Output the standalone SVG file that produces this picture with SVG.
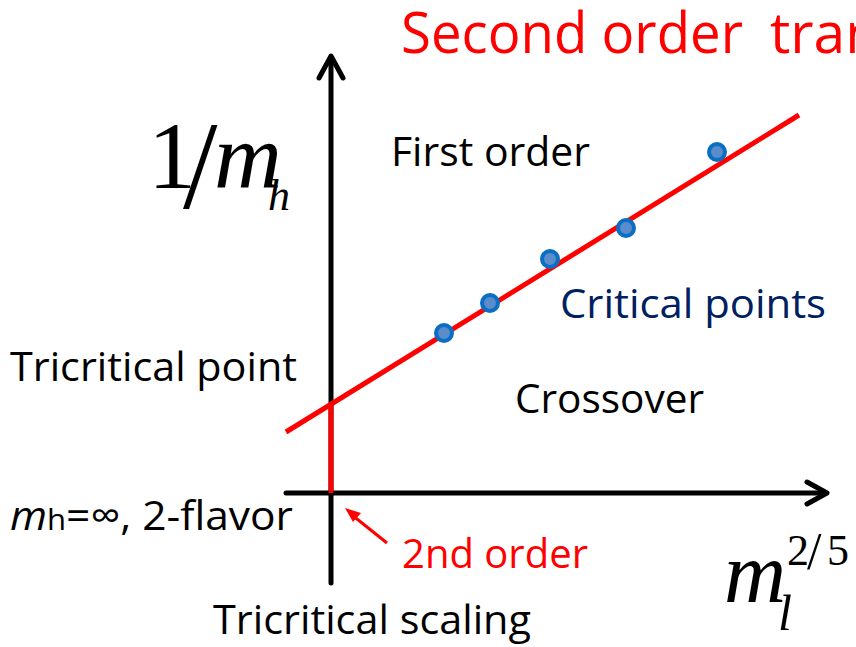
<svg xmlns="http://www.w3.org/2000/svg" width="856" height="647" viewBox="0 0 856 647">
<style>
.t{font-family:"Open Sans","Noto Sans","Liberation Sans",sans-serif;font-size:41px;fill:#000}
.title{font-family:"Open Sans","Noto Sans","Liberation Sans",sans-serif;font-size:57px;fill:#ff0000}
.red{fill:#ff0000}
.navy{fill:#002060}
.math{font-family:"Liberation Serif","Times New Roman",serif;fill:#000}
.it{font-style:italic}
.axis{stroke:#000;stroke-width:5;fill:none;stroke-linecap:round;stroke-linejoin:round}
.pt{fill:#5a8ccb;stroke:#0a6fc2;stroke-width:4}
</style>
<rect width="856" height="647" fill="#fff"/>
<g id="connectors">
  <line x1="331" y1="583" x2="331" y2="58" class="axis" stroke-linecap="butt"/>
  <polyline points="319,78 331,56 343,78" class="axis"/>
  <line x1="286" y1="493" x2="825" y2="493" class="axis" stroke-linecap="butt"/>
  <polyline points="807,482 827,493 807,504" class="axis"/>
  <line x1="286" y1="432" x2="799" y2="115" stroke="#ff0000" stroke-width="5"/>
  <line x1="331" y1="404" x2="331" y2="493" stroke="#ff0000" stroke-width="5"/>
  <line x1="387" y1="543" x2="352" y2="515" stroke="#ff0000" stroke-width="3"/>
  <polygon points="345,508 361,513 353,522" fill="#ff0000"/>
</g>
<g id="points">
  <circle cx="444" cy="333" r="8" class="pt"/>
  <circle cx="490" cy="303" r="8" class="pt"/>
  <circle cx="550" cy="259" r="8" class="pt"/>
  <circle cx="626" cy="228" r="8" class="pt"/>
  <circle cx="717" cy="152" r="8" class="pt"/>
</g>
<g id="title"><text y="53" class="title"><tspan x="401" textLength="342" lengthAdjust="spacingAndGlyphs">Second order</tspan><tspan x="770">tran</tspan></text></g>
<g id="ylabel">
  <text x="148" y="188" class="math" font-size="96">1</text>
  <text x="183" y="208" class="math" font-size="124">/</text>
  <text x="214" y="188" class="math it" font-size="94">m</text>
  <text x="268" y="210" class="math it" font-size="44">h</text>
</g>
<g id="xlabel">
  <text x="724" y="602" class="math it" font-size="86">m</text>
  <text x="778" y="630" class="math it" font-size="50">l</text>
  <text x="787" y="565" class="math" font-size="44">2</text>
  <text x="807" y="569" class="math" font-size="52">/</text>
  <text x="827" y="565" class="math" font-size="44">5</text>
</g>
<g id="first-order"><text x="391" y="166" class="t" textLength="199" lengthAdjust="spacingAndGlyphs">First order</text></g>
<g id="critical-points"><text x="560" y="318" class="t navy" textLength="266" lengthAdjust="spacingAndGlyphs">Critical points</text></g>
<g id="crossover"><text x="515" y="413" class="t" textLength="189" lengthAdjust="spacingAndGlyphs">Crossover</text></g>
<g id="tricritical-point"><text x="10" y="381" class="t" textLength="287" lengthAdjust="spacingAndGlyphs">Tricritical point</text></g>
<g id="mh-label"><text x="10" y="530" class="t" textLength="283" lengthAdjust="spacingAndGlyphs"><tspan font-style="italic">m</tspan><tspan font-size="30">h</tspan>=∞, 2-flavor</text></g>
<g id="second-order"><text x="402" y="568" class="t red" textLength="186" lengthAdjust="spacingAndGlyphs">2nd order</text></g>
<g id="tricritical-scaling"><text x="213" y="634" class="t" textLength="318" lengthAdjust="spacingAndGlyphs">Tricritical scaling</text></g>
</svg>
